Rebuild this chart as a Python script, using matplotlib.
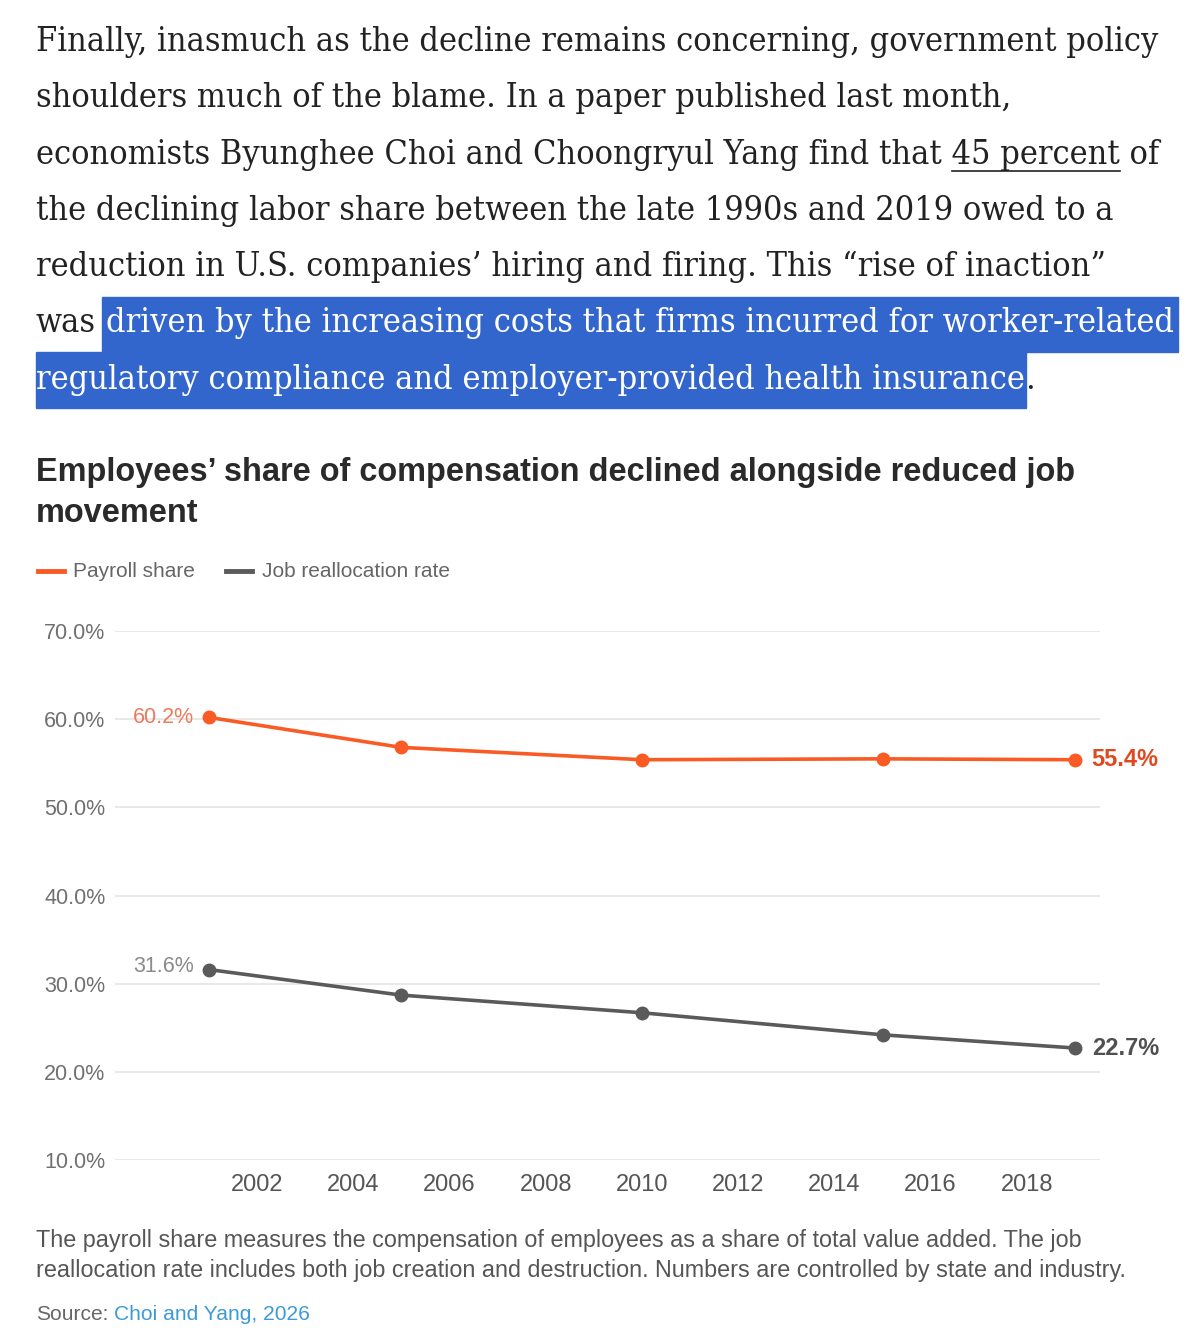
import matplotlib
matplotlib.use("Agg")
import matplotlib.pyplot as plt
from matplotlib.lines import Line2D
from matplotlib.patches import Rectangle

years = [2001, 2005, 2010, 2015, 2019]
payroll_share = [60.2, 56.8, 55.4, 55.5, 55.4]
job_reallocation = [31.6, 28.7, 26.7, 24.2, 22.7]
y_ticks = [10, 20, 30, 40, 50, 60, 70]
x_ticks = list(range(2002, 2019, 2))

paragraph = [
    "Finally, inasmuch as the decline remains concerning, government policy",
    "shoulders much of the blame. In a paper published last month,",
    "economists Byunghee Choi and Choongryul Yang find that 45 percent of",
    "the declining labor share between the late 1990s and 2019 owed to a",
    "reduction in U.S. companies\u2019 hiring and firing. This \u201crise of inaction\u201d",
]
hl_lead = "was"
hl_line1 = "driven by the increasing costs that firms incurred for worker-related"
hl_line2 = "regulatory compliance and employer-provided health insurance"
title_lines = ["Employees\u2019 share of compensation declined alongside reduced job",
               "movement"]
note_lines = ["The payroll share measures the compensation of employees as a share of total value added. The job",
              "reallocation rate includes both job creation and destruction. Numbers are controlled by state and industry."]

ORANGE = "#fa5a24"
GREY = "#5a5a5a"
W, H = 1200, 1341
SERIF = ["DejaVu Serif"]
SANS = ["Liberation Sans", "DejaVu Sans"]

fig = plt.figure(figsize=(W / 100, H / 100), dpi=100)
fig.patch.set_facecolor("white")
renderer = fig.canvas.get_renderer()


def put(x, y, s, **kw):
    return fig.text(x / W, 1 - y / H, s, **kw)


def width(s, **kw):
    t = fig.text(0, 0, s, **kw)
    w = t.get_window_extent(renderer).width
    t.remove()
    return w


def fit(s, target, **kw):
    return 20 * target / width(s, fontsize=20, **kw)


# paragraph, with the highlighted sentence
skw = dict(family=SERIF, stretch="condensed")
ps = fit(paragraph[0], 1122, **skw)
pkw = dict(fontsize=ps, color="#222222", va="center", **skw)
centers = [42, 98, 155, 211, 267, 323, 380]
for yc, line in zip(centers, paragraph):
    put(36, yc, line, **pkw)

full = "economists Byunghee Choi and Choongryul Yang find that 45 percent"
u1 = 36 + width(full, fontsize=ps, **skw)
u0 = u1 - width("45 percent", fontsize=ps, **skw)
fig.add_artist(Line2D([u0 / W, u1 / W], [1 - 171 / H] * 2, color="#222222", lw=1.2))

x_end1 = 36 + width(hl_lead + " " + hl_line1, fontsize=ps, **skw)
x_hl = x_end1 - width(hl_line1, fontsize=ps, **skw)
x_end2 = 36 + width(hl_line2, fontsize=ps, **skw)
fig.add_artist(Rectangle(((x_hl - 4) / W, 1 - 352 / H), (x_end1 - x_hl + 8) / W, 55 / H,
                         transform=fig.transFigure, color="#3366cc", zorder=0))
fig.add_artist(Rectangle((36 / W, 1 - 408 / H), (x_end2 - 35) / W, 56 / H,
                         transform=fig.transFigure, color="#3366cc", zorder=0))
put(36, centers[5], hl_lead, **pkw)
put(x_hl, centers[5], hl_line1, **{**pkw, "color": "white"})
put(36, centers[6], hl_line2, **{**pkw, "color": "white"})
put(x_end2, centers[6], ".", **pkw)

# title
ts = fit(title_lines[0], 1039, family=SANS, weight="bold")
put(36, 472, title_lines[0], family=SANS, weight="bold", fontsize=ts, color="#2a2a2a", va="center")
put(36, 513, title_lines[1], family=SANS, weight="bold", fontsize=ts, color="#2a2a2a", va="center")

# legend
lkw = dict(family=SANS, fontsize=15, color="#666666", va="center")
fig.add_artist(Line2D([38 / W, 64 / W], [1 - 571 / H] * 2, color=ORANGE, lw=3.5))
put(73, 571, "Payroll share", **lkw)
fig.add_artist(Line2D([226 / W, 252 / W], [1 - 571 / H] * 2, color=GREY, lw=3.5))
put(262, 571, "Job reallocation rate", **lkw)

# chart
ax = fig.add_axes([115 / W, 1 - 1160 / H, 985 / W, 529 / H])
ax.set_xlim(1999.05, 2019.52)
ax.set_ylim(10, 70)
for s in ax.spines.values():
    s.set_visible(False)
ax.set_yticks(y_ticks)
ax.set_yticklabels([f"{v:.1f}%" for v in y_ticks])
ax.set_xticks(x_ticks)
ax.set_xticklabels([str(v) for v in x_ticks])
ax.tick_params(axis="y", length=0, pad=7, labelsize=15.5, labelcolor="#707070")
ax.tick_params(axis="x", length=0, pad=10, labelsize=17, labelcolor="#555555")
for lab in ax.get_xticklabels() + ax.get_yticklabels():
    lab.set_family(SANS)
ax.grid(axis="y", color="#e4e4e4", lw=1.2)
ax.set_axisbelow(True)

ax.plot(years, payroll_share, color=ORANGE, lw=2.6, marker="o", ms=9, clip_on=False)
ax.plot(years, job_reallocation, color=GREY, lw=2.6, marker="o", ms=9, clip_on=False)

ax.annotate(f"{payroll_share[0]:.1f}%", (years[0], payroll_share[0]), xytext=(-11, 0),
            textcoords="offset points", ha="right", va="center", fontsize=15.5,
            color="#ec7a5c", family=SANS)
ax.annotate(f"{payroll_share[-1]:.1f}%", (years[-1], payroll_share[-1]), xytext=(12, 0),
            textcoords="offset points", ha="left", va="center", fontsize=17,
            color="#e0491f", weight="bold", family=SANS)
ax.annotate(f"{job_reallocation[0]:.1f}%", (years[0], job_reallocation[0]), xytext=(-11, 2),
            textcoords="offset points", ha="right", va="center", fontsize=15.5,
            color="#8a8a8a", family=SANS)
ax.annotate(f"{job_reallocation[-1]:.1f}%", (years[-1], job_reallocation[-1]), xytext=(12, 0),
            textcoords="offset points", ha="left", va="center", fontsize=17,
            color="#505050", weight="bold", family=SANS)

# notes and source
ns = fit(note_lines[0], 1040, family=SANS)
put(36, 1241, note_lines[0], family=SANS, fontsize=ns, color="#555555", va="center")
put(36, 1271, note_lines[1], family=SANS, fontsize=ns, color="#555555", va="center")
put(36, 1314, "Source:", family=SANS, fontsize=ns * 0.9, color="#666666", va="center")
sx = 36 + width("Source: ", family=SANS, fontsize=ns * 0.9)
put(sx, 1314, "Choi and Yang, 2026", family=SANS, fontsize=ns * 0.9, color="#3d9ad8", va="center")

fig.savefig("out.png", dpi=100)
plt.close(fig)
